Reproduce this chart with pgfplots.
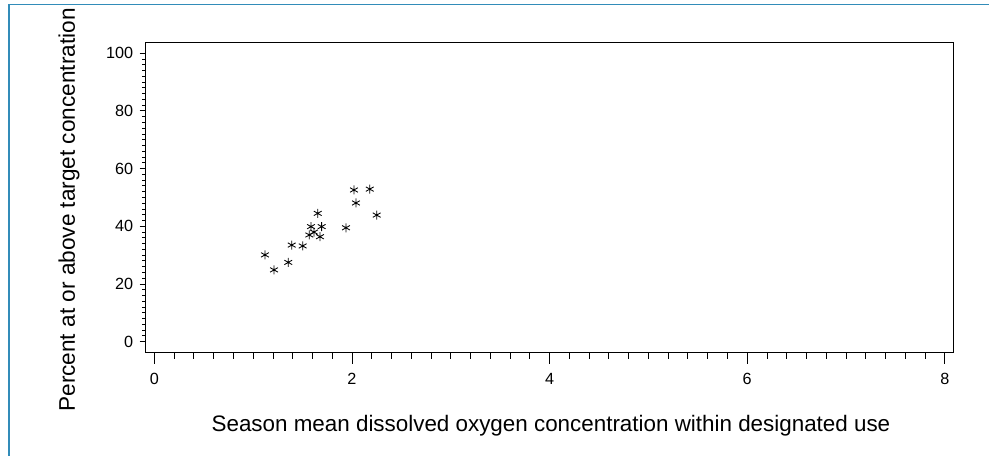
\documentclass[border=0pt]{standalone}
\usepackage{fontspec}
\setmainfont{Liberation Sans}
\usepackage{pgfplots}
\pgfplotsset{compat=1.18}
\definecolor{framecol}{RGB}{50,140,185}
\newcommand{\tkfont}{\fontsize{16.2bp}{19bp}\selectfont}
\begin{document}
\begin{tikzpicture}
\path[use as bounding box] (0,0) rectangle (989bp,456bp);
\draw[framecol, line width=1.3bp] (9bp,0) -- (9bp,451.5bp) -- (989bp,451.5bp);
\pgfplotsset{
  common/.style={
    at={(145.7bp,103.5bp)}, anchor=south west,
    width=807.3bp, height=310.2bp, scale only axis,
    xmin=-0.088, xmax=8.083, ymin=-3.74, ymax=103.8,
    tick align=outside,
    axis line style={line width=0.9bp},
    every tick/.style={line width=0.9bp, black},
    /pgf/number format/assume math mode=true,
  }
}
\begin{axis}[common,
  major tick length=11bp, minor tick length=6bp,
  xtick={0,2,4,6,8}, minor x tick num=9,
  xtick pos=lower, ytick=\empty,
  xticklabel={\tkfont\pgfmathprintnumber{\tick}},
  xticklabel style={yshift=-6bp},
  xlabel={Season mean dissolved oxygen concentration within designated use},
  every axis x label/.style={at={(axis description cs:0.502,-0.2553)}, anchor=base, font=\fontsize{22.4bp}{26bp}\selectfont},
]
\addplot[only marks, mark=asterisk, mark size=4.5bp, black, mark options={line width=0.85bp}] coordinates {
(1.119,30.1) (1.211,24.9) (1.355,27.5) (1.390,33.5) (1.501,33.2)
(1.568,37.0) (1.585,39.9) (1.615,38.0) (1.653,44.5) (1.676,36.4)
(1.693,39.9) (1.939,39.5) (2.020,52.6) (2.040,48.1) (2.180,52.9)
(2.250,43.9)
};
\end{axis}
\begin{axis}[common,
  major tick length=6bp, minor tick length=3.3bp,
  hide x axis, axis y line*=left,
  ytick={0,20,40,60,80,100}, minor y tick num=9,
  yticklabel={\tkfont\pgfmathprintnumber{\tick}},
  yticklabel style={xshift=-3bp},
  ylabel={Percent at or above target concentration},
  every axis y label/.style={at={(axis description cs:-0.0876,0.4594)}, anchor=base, rotate=90, font=\fontsize{22.6bp}{26bp}\selectfont},
]
\end{axis}
\end{tikzpicture}
\end{document}
